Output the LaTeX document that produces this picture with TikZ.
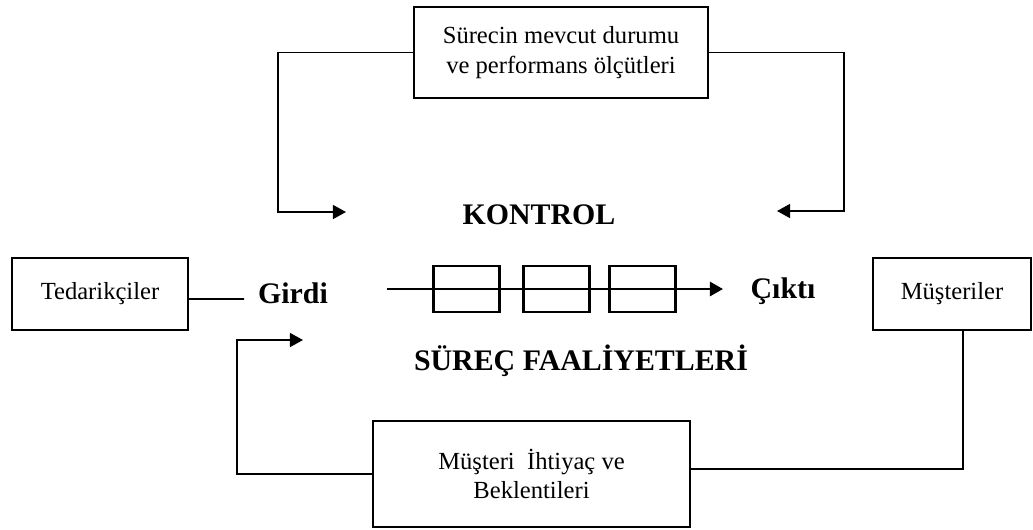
\documentclass[tikz,border=0pt]{standalone}
\usepackage{fontspec}
\setmainfont{Liberation Serif}
\usetikzlibrary{arrows.meta}
\tikzset{
    kutu/.style={draw, line width=1pt, align=center, font=\fontsize{14}{16}\selectfont},
    islem/.style={draw, line width=1.6pt, minimum width=1.32cm, minimum height=0.92cm},
    baslik/.style={font=\fontsize{17}{20}\selectfont\bfseries},
    ok/.style={-{Triangle[length=7.5pt,width=8pt]}, line width=1pt}
}

\begin{document}
\begin{tikzpicture}[x=0.02cm, y=-0.02cm]
    \useasboundingbox (0,0) rectangle (1033,529);
    \node [kutu, minimum width=5.88cm, minimum height=1.82cm] (olcut) at (561,52.5)
        {S\"urecin mevcut durumu\\[1pt]ve performans \"ol\c{c}\"utleri};
    \node [kutu, minimum width=3.52cm, minimum height=1.44cm] (ted) at (100,294) {Tedarik\c{c}iler};
    \node [kutu, minimum width=3.16cm, minimum height=1.44cm] (mus) at (952,294) {M\"u\c{s}teriler};
    \node [kutu, font=\fontsize{14}{17}\selectfont, minimum width=6.34cm, minimum height=2.12cm] (ihtiyac) at (531.5,474)
        {M\"u\c{s}teri\ \ \.Ihtiya\c{c} ve\\Beklentileri};
    \node [baslik] (kontrol) at (539,215) {KONTROL};
    \node [baslik] (girdi) at (293,293) {Girdi};
    \node [baslik] (cikti) at (783,291) {\c{C}{\i}kt{\i}};
    \node [baslik] (surec) at (581,361) {S\"URE\c{C} FAAL\.IYETLER\.I};
    \node [islem] (f1) at (466.5,289) {};
    \node [islem] (f2) at (556.5,289) {};
    \node [islem] (f3) at (642.5,289) {};
    \coordinate (akisbas) at (387,289);
    \coordinate (akisson) at (723,289);
    \coordinate (kontrolsol) at (346,212);
    \coordinate (kontrolsag) at (777,211);
    \coordinate (girdialt) at (303,340);
    \draw [ok, line width=1.6pt] (akisbas) -- (akisson);
    \draw [ok] (olcut.west) -- ++(-135,0) |- (kontrolsol);
    \draw [ok] (olcut.east) -- ++(135,0) |- (kontrolsag);
    \draw [line width=1pt, shorten >=4.5pt] ([yshift=-1mm]ted.east) -- ([yshift=-1.2mm]girdi.west);
    \draw [line width=1pt] ([xshift=2.2mm]mus.south) |- ([yshift=1mm]ihtiyac.east);
    \draw [ok] (ihtiyac.west) -- ++(-135,0) |- (girdialt);
\end{tikzpicture}
\end{document}
